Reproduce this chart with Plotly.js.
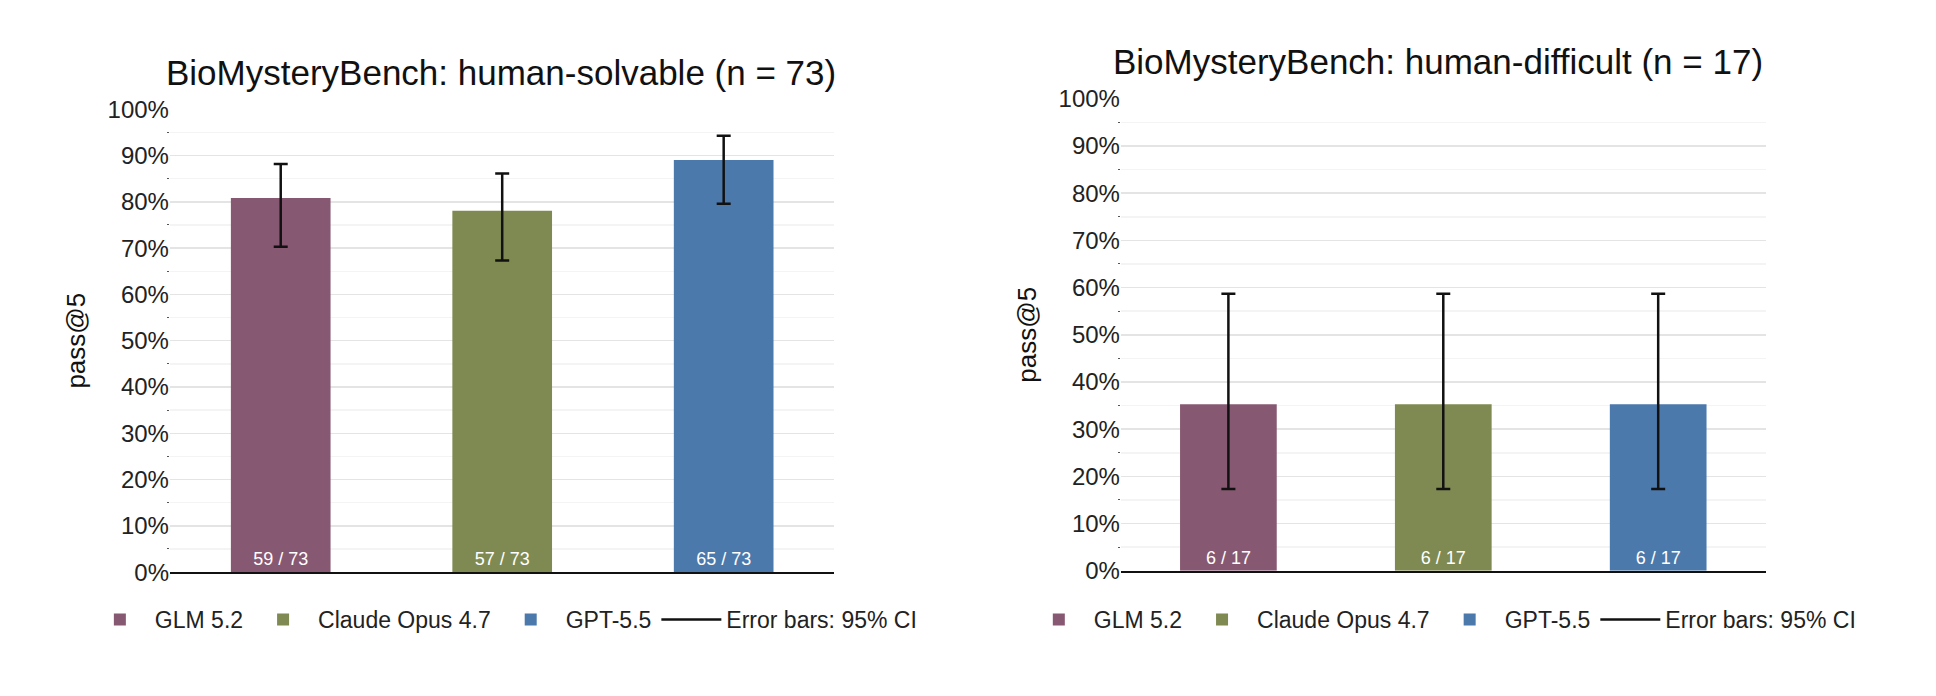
<!DOCTYPE html>
<html>
<head>
<meta charset="utf-8">
<script src="https://cdn.plot.ly/plotly-3.0.1.min.js"></script>
<style>html,body{margin:0;padding:0;background:#fff}#chart{width:1936px;height:696px}</style>
</head>
<body>
<div id="chart"></div>
<script>
// model names and colours
const models = ['GLM 5.2', 'Claude Opus 4.7', 'GPT-5.5'];
const colors = ['#875871', '#7f8a52', '#4b79ac'];

// human-solvable (n = 73)
const solvedA = [59, 57, 65];
const nA = 73;
const ciLowA = [70.3, 67.3, 79.6];
const ciHighA = [88.2, 86.1, 94.3];

// human-difficult (n = 17)
const solvedB = [6, 6, 6];
const nB = 17;
const ciLowB = [17.3, 17.3, 17.3];
const ciHighB = [58.7, 58.7, 58.7];

const font = 'Liberation Sans, Arial, sans-serif';

function panelTraces(solved, n, lo, hi, xa, ya, legend) {
  const traces = models.map((m, i) => {
    const v = solved[i] / n * 100;
    return {
      type: 'bar', name: m, x: [m], y: [v], xaxis: xa, yaxis: ya, legend: legend,
      width: 0.45, marker: {color: colors[i]},
      text: [solved[i] + ' / ' + n], textposition: 'inside', insidetextanchor: 'start',
      textfont: {color: '#fff', size: 18, family: font}, textangle: 0,
      error_y: {type: 'data', symmetric: false, array: [hi[i] - v], arrayminus: [v - lo[i]],
        color: '#111', thickness: 2.5, width: 7},
      hoverinfo: 'skip'
    };
  });
  traces.push({type: 'scatter', mode: 'lines', name: 'Error bars: 95% CI', x: [null], y: [null],
    xaxis: xa, yaxis: ya, legend: legend, line: {color: '#111', width: 2.5}});
  return traces;
}

const data = panelTraces(solvedA, nA, ciLowA, ciHighA, 'x', 'y', 'legend')
  .concat(panelTraces(solvedB, nB, ciLowB, ciHighB, 'x2', 'y2', 'legend2'));

function yax(domain, anchor) {
  return {
    domain: domain, anchor: anchor, range: [0, 100], dtick: 10, ticksuffix: '%',
    showgrid: true, gridcolor: '#e4e4e4', gridwidth: 1.5, zeroline: false,
    tickfont: {size: 24, color: '#222', family: font}, ticks: '', showline: false,
    minor: {dtick: 5, showgrid: true, gridcolor: '#f4f4f4', ticks: 'outside', ticklen: 2, tickcolor: '#555'},
    title: {text: 'pass@5', font: {size: 26, color: '#111', family: font}, standoff: 14}
  };
}
function xax(domain, anchor) {
  return {domain: domain, anchor: anchor, showticklabels: false, showline: true,
    linecolor: '#111', linewidth: 2, ticks: ''};
}
const legendStyle = {orientation: 'h', yanchor: 'middle', y: 0.11, xanchor: 'center',
  font: {size: 23, color: '#222', family: font}, itemwidth: 60, entrywidth: 0, tracegroupgap: 0};

const layout = {
  width: 1936, height: 696, margin: {l: 0, r: 0, t: 0, b: 0},
  paper_bgcolor: '#fff', plot_bgcolor: '#fff', bargap: 0.55,
  xaxis: xax([0.0878, 0.431], 'y'),
  yaxis: yax([0.178, 0.843], 'x'),
  xaxis2: xax([0.579, 0.912], 'y2'),
  yaxis2: yax([0.180, 0.858], 'x2'),
  legend: Object.assign({x: 0.26}, legendStyle),
  legend2: Object.assign({x: 0.745}, legendStyle),
  annotations: [
    {text: 'BioMysteryBench: human-solvable (n = 73)', xref: 'paper', yref: 'paper',
      x: 0.259, xanchor: 'center', y: 1 - 73 / 696, yanchor: 'middle', showarrow: false,
      font: {size: 35, color: '#111', family: font}},
    {text: 'BioMysteryBench: human-difficult (n = 17)', xref: 'paper', yref: 'paper',
      x: 0.743, xanchor: 'center', y: 1 - 62 / 696, yanchor: 'middle', showarrow: false,
      font: {size: 35, color: '#111', family: font}}
  ],
  showlegend: true
};

Plotly.newPlot('chart', data, layout, {displayModeBar: false, staticPlot: true});
</script>
</body>
</html>
